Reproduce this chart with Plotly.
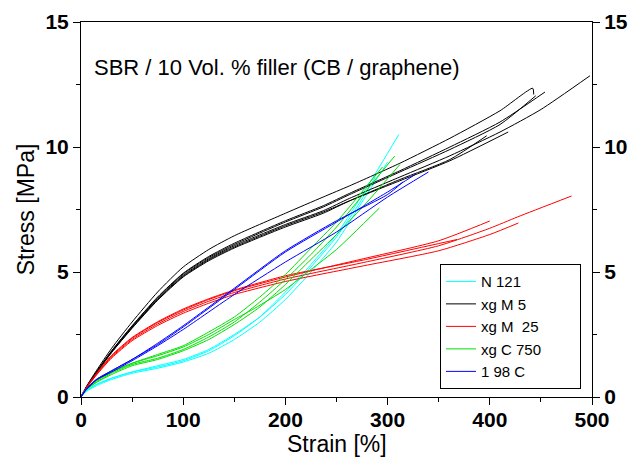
import plotly.graph_objects as go

# ---- data (strain in %, stress in MPa) ----
N121_STRAIN = [
    [0, 5, 15, 30, 50, 75, 100, 125, 150, 175, 200, 225, 250, 280, 311],
    [0, 5, 15, 30, 50, 75, 100, 125, 150, 175, 200, 225, 250, 275, 300],
    [0, 5, 15, 30, 50, 75, 100, 125, 150, 175, 200, 225, 250, 270, 288],
]
N121_STRESS = [
    [0, 0.25, 0.5, 0.75, 1.0, 1.2, 1.45, 1.85, 2.45, 3.2, 4.2, 5.3, 6.5, 8.4, 10.5],
    [0, 0.22, 0.45, 0.7, 0.95, 1.15, 1.4, 1.75, 2.3, 3.0, 3.9, 5.0, 6.2, 7.8, 9.4],
    [0, 0.25, 0.5, 0.75, 1.0, 1.25, 1.5, 1.9, 2.5, 3.2, 4.1, 5.2, 6.4, 7.6, 8.8],
]

XGM5_STRAIN = [
    [0, 5, 15, 30, 50, 75, 100, 125, 150, 200, 237, 263, 312, 361, 410, 442, 443],
    [0, 5, 15, 30, 50, 75, 100, 125, 150, 200, 237, 263, 312, 361, 410, 454],
    [0, 5, 15, 30, 50, 75, 100, 125, 150, 200, 237, 263, 312, 361, 410, 450, 498],
    [0, 5, 15, 30, 50, 75, 100, 125, 150, 200, 237, 263, 312, 361, 397],
    [0, 5, 15, 30, 50, 75, 100, 125, 150, 200, 237, 263, 312, 361, 418],
    [0, 5, 15, 30, 50, 75, 100, 125, 150, 200, 237, 263, 312, 361, 410, 445],
]
XGM5_STRESS = [
    [0, 0.4, 1.05, 1.95, 3.0, 4.2, 5.2, 5.9, 6.45, 7.35, 8.0, 8.45, 9.35, 10.35, 11.45, 12.35, 12.1],
    [0, 0.38, 1.0, 1.85, 2.85, 4.0, 4.95, 5.62, 6.15, 7.05, 7.65, 8.15, 9.05, 10.0, 11.0, 12.2],
    [0, 0.37, 0.98, 1.82, 2.8, 3.93, 4.87, 5.53, 6.05, 6.9, 7.45, 7.95, 8.8, 9.65, 10.6, 11.5, 12.85],
    [0, 0.36, 0.96, 1.78, 2.75, 3.87, 4.8, 5.45, 5.96, 6.8, 7.35, 7.85, 8.7, 9.5, 10.45],
    [0, 0.36, 0.96, 1.79, 2.77, 3.9, 4.83, 5.49, 6.0, 6.85, 7.4, 7.85, 8.65, 9.45, 10.6],
    [0, 0.38, 0.99, 1.84, 2.83, 3.97, 4.92, 5.58, 6.1, 7.0, 7.6, 8.1, 9.0, 9.9, 10.9, 12.05],
]

XGM25_STRAIN = [
    [0, 5, 15, 30, 50, 75, 100, 125, 150, 200, 273, 350, 400],
    [0, 5, 15, 30, 50, 75, 100, 125, 150, 200, 273, 350, 400, 428],
    [0, 5, 15, 30, 50, 75, 100, 125, 150, 200, 273, 350, 400, 427, 480],
    [0, 5, 15, 30, 50, 75, 100, 125, 150, 200, 273, 368],
]
XGM25_STRESS = [
    [0, 0.36, 0.92, 1.64, 2.35, 2.98, 3.48, 3.9, 4.25, 4.8, 5.5, 6.25, 7.04],
    [0, 0.34, 0.87, 1.56, 2.25, 2.86, 3.35, 3.75, 4.1, 4.62, 5.22, 5.85, 6.5, 6.96],
    [0, 0.35, 0.89, 1.6, 2.3, 2.92, 3.42, 3.83, 4.18, 4.72, 5.35, 6.05, 6.75, 7.2, 8.04],
    [0, 0.37, 0.94, 1.67, 2.38, 3.01, 3.52, 3.93, 4.28, 4.85, 5.45, 6.3],
]

XGC750_STRAIN = [
    [0, 5, 15, 30, 50, 75, 100, 125, 150, 175, 200, 225, 250, 280, 307],
    [0, 5, 15, 30, 50, 75, 100, 125, 150, 175, 200, 225, 250, 280, 312],
    [0, 5, 15, 30, 50, 75, 100, 125, 150, 170, 200, 225, 250, 292],
    [0, 5, 15, 30, 50, 75, 100, 125, 150, 175, 200, 225, 250, 295],
]
XGC750_STRESS = [
    [0, 0.3, 0.6, 0.95, 1.3, 1.55, 1.9, 2.4, 3.0, 3.8, 4.7, 5.7, 6.8, 8.3, 9.64],
    [0, 0.28, 0.58, 0.9, 1.25, 1.5, 1.85, 2.3, 2.9, 3.6, 4.5, 5.5, 6.5, 7.8, 9.3],
    [0, 0.32, 0.65, 1.0, 1.35, 1.65, 2.0, 2.5, 3.1, 3.55, 4.3, 5.1, 5.9, 7.56],
    [0, 0.32, 0.65, 1.0, 1.35, 1.7, 2.05, 2.6, 3.2, 4.0, 4.9, 5.95, 7.0, 9.2],
]

C198_STRAIN = [
    [0, 5, 15, 30, 50, 75, 100, 150, 200, 250, 300, 327],
    [0, 5, 15, 30, 50, 75, 100, 150, 200, 250, 300, 340],
    [0, 5, 15, 30, 50, 75, 100, 150, 200, 250, 300, 315],
]
C198_STRESS = [
    [0, 0.3, 0.7, 1.05, 1.5, 2.1, 2.8, 4.3, 5.8, 7.0, 8.2, 8.9],
    [0, 0.3, 0.68, 1.0, 1.45, 2.05, 2.7, 4.1, 5.4, 6.6, 8.0, 9.0],
    [0, 0.3, 0.7, 1.05, 1.5, 2.15, 2.85, 4.35, 5.85, 7.05, 8.1, 8.6],
]

SERIES = [
    ("N 121", "#00FFFF", N121_STRAIN, N121_STRESS),
    ("xg M 5", "#000000", XGM5_STRAIN, XGM5_STRESS),
    ("xg M  25", "#FF0000", XGM25_STRAIN, XGM25_STRESS),
    ("xg C 750", "#00E000", XGC750_STRAIN, XGC750_STRESS),
    ("1 98 C", "#0000FF", C198_STRAIN, C198_STRESS),
]

X_TICKS = [0, 100, 200, 300, 400, 500]
Y_TICKS = [0, 5, 10, 15]

FONT = "Liberation Sans, Arial, sans-serif"
NBSP = "\u00a0"

fig = go.Figure()
for name, color, xs, ys in SERIES:
    label = name.replace("  ", NBSP + " ") + NBSP * 8
    for i, (x, y) in enumerate(zip(xs, ys)):
        fig.add_trace(go.Scatter(
            x=x, y=y, mode="lines", name=label,
            line=dict(color=color, width=1, shape="spline", smoothing=0.6),
            showlegend=(i == 0), legendgroup=name,
        ))

# invisible trace to carry the mirrored right axis
fig.add_trace(go.Scatter(x=[None], y=[None], yaxis="y2", showlegend=False, hoverinfo="skip"))

tickfont = dict(family=FONT, size=21, color="black", weight="bold")
titlefont = dict(family=FONT, size=23, color="black")

fig.update_layout(
    width=630, height=466,
    margin=dict(l=81, r=38, t=22, b=69, autoexpand=False),
    paper_bgcolor="white", plot_bgcolor="white",
    showlegend=True,
    legend=dict(
        x=0.7025, y=0.021, xanchor="left", yanchor="bottom",
        bordercolor="black", borderwidth=1, bgcolor="white",
        font=dict(family=FONT, size=15, color="black"),
        tracegroupgap=0,
    ),
    xaxis=dict(
        range=[0, 500], tickvals=X_TICKS, ticktext=[str(v) for v in X_TICKS],
        showgrid=False, zeroline=False, showline=True, linecolor="black", linewidth=1,
        mirror=True, ticks="outside", ticklen=7, tickcolor="black", automargin=False,
        minor=dict(dtick=50, tick0=0, ticks="outside", ticklen=4, tickcolor="black"),
        tickfont=tickfont, ticklabelstandoff=-3,
    ),
    yaxis=dict(
        range=[0, 15], tickvals=Y_TICKS, ticktext=[str(v) for v in Y_TICKS],
        showgrid=False, zeroline=False, showline=True, linecolor="black", linewidth=1,
        ticks="outside", ticklen=7, tickcolor="black", automargin=False,
        minor=dict(dtick=2.5, tick0=0, ticks="outside", ticklen=4, tickcolor="black"),
        tickfont=tickfont,
        title=dict(text="Stress [MPa]", font=titlefont, standoff=4),
    ),
    yaxis2=dict(
        range=[0, 15], tickvals=Y_TICKS, ticktext=[str(v) for v in Y_TICKS],
        overlaying="y", side="right", automargin=False,
        showgrid=False, zeroline=False, showline=True, linecolor="black", linewidth=1,
        ticks="outside", ticklen=7, tickcolor="black",
        minor=dict(dtick=2.5, tick0=0, ticks="outside", ticklen=4, tickcolor="black"),
        tickfont=tickfont,
    ),
    annotations=[
        dict(
            text="SBR / 10 Vol. % filler (CB / graphene)",
            xref="paper", yref="paper", x=0.021, y=0.88, xanchor="left", yanchor="middle",
            showarrow=False, font=dict(family=FONT, size=22, color="black"),
        ),
        dict(
            text="Strain [%]",
            xref="paper", yref="paper", x=0.5, y=-0.125, xanchor="center", yanchor="middle",
            showarrow=False, font=titlefont,
        ),
    ],
)

fig.write_html("out.html")
